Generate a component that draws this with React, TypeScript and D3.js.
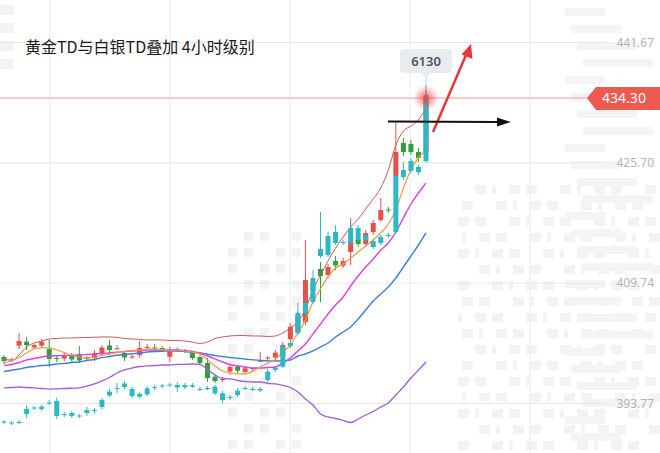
import React from 'react';
import * as d3 from 'd3';

const W = 660;
const H = 453;

const title = '黄金TD与白银TD叠加 4小时级别';
const axisTicks = [441.67, 425.70, 409.74, 393.77];
const lastPrice = 434.30;
const silverLast = 6130;

// Gold TD 4h candles
const goldOpen = [399.94, 399.48, 401.44, 401.97, 401.20, 401.44, 401.00, 399.81, 399.74, 400.14, 400.34, 399.68, 399.81, 400.34, 401.47, 400.96, 400.47, 399.87, 400.20, 401.14, 401.20, 401.14, 399.98, 400.94, 400.80, 400.47, 399.94, 399.14, 397.33, 396.89, 397.99, 398.65, 397.95, 398.35, 399.32, 399.74, 399.87, 400.07, 402.29, 403.26, 404.59, 409.76, 411.62, 410.82, 412.68, 412.05, 413.87, 415.47, 414.94, 416.53, 418.12, 419.51, 423.96, 428.34, 428.21, 427.14, 427.14];
const goldHigh = [400.20, 399.81, 403.13, 402.60, 401.67, 402.33, 402.20, 400.20, 400.47, 400.47, 401.40, 400.07, 400.87, 401.53, 402.20, 401.53, 400.74, 400.20, 402.06, 401.67, 401.67, 401.40, 401.31, 401.14, 401.00, 400.74, 400.20, 399.81, 397.69, 397.29, 399.01, 398.88, 398.75, 398.61, 400.64, 400.07, 400.87, 401.93, 404.45, 405.91, 415.47, 410.16, 412.54, 412.28, 413.34, 413.08, 418.39, 416.00, 416.79, 418.12, 421.04, 419.85, 431.13, 429.00, 428.74, 427.68, 435.37];
const goldLow = [399.01, 399.28, 401.00, 400.87, 401.00, 401.14, 398.61, 399.28, 399.41, 399.28, 399.14, 399.41, 399.41, 400.07, 400.20, 400.92, 399.41, 399.68, 399.81, 401.07, 400.60, 400.74, 399.28, 400.60, 400.47, 399.54, 398.88, 396.62, 396.49, 396.62, 397.55, 397.82, 397.69, 398.08, 399.28, 399.54, 399.68, 399.81, 401.93, 402.99, 404.19, 408.56, 407.24, 410.42, 411.48, 411.75, 412.15, 414.54, 414.67, 416.13, 417.86, 419.05, 423.69, 426.61, 426.75, 425.82, 426.75];
const goldClose = [399.41, 399.61, 402.06, 401.53, 401.53, 401.97, 399.68, 399.68, 400.14, 399.61, 399.48, 399.81, 400.41, 401.20, 400.87, 401.10, 399.87, 400.01, 401.14, 401.27, 401.07, 400.87, 400.64, 400.80, 400.67, 399.81, 399.14, 397.15, 396.76, 397.02, 398.61, 398.12, 398.44, 398.48, 399.48, 399.87, 400.51, 401.53, 403.96, 405.38, 410.16, 408.83, 410.69, 411.88, 412.08, 412.68, 415.47, 414.94, 416.40, 417.72, 419.44, 419.38, 427.14, 427.14, 427.14, 426.35, 434.30];

// Silver TD 4h candles (overlay, own scale)
const silverOpen = [4165, 4165, 4162, 4216, 4249, 4246, 4279, 4294, 4216, 4222, 4201, 4222, 4234, 4258, 4327, 4367, 4378, 4366, 4336, 4333, 4372, 4381, 4387, 4390, 4390, 4380, 4366, 4372, 4380, 4340, 4312, 4330, 4366, 4366, 4357, 4420, 4480, 4500, 4624, 4702, 4822, 4888, 5164, 5170, 5242, 5248, 5242, 5332, 5260, 5254, 5242, 5284, 5308, 5638, 5674, 5698, 5734];
const silverHigh = [4180, 4174, 4180, 4270, 4264, 4270, 4300, 4314, 4228, 4234, 4216, 4258, 4252, 4312, 4366, 4402, 4414, 4378, 4348, 4384, 4390, 4396, 4402, 4408, 4402, 4402, 4378, 4384, 4390, 4354, 4330, 4372, 4384, 4378, 4378, 4486, 4504, 4636, 4654, 4882, 4900, 5080, 5428, 5308, 5350, 5260, 5368, 5350, 5302, 5266, 5290, 5302, 5656, 5728, 5752, 5710, 6190];
const silverLow = [4156, 4150, 4156, 4192, 4240, 4234, 4270, 4186, 4198, 4192, 4192, 4204, 4222, 4246, 4318, 4342, 4366, 4312, 4312, 4324, 4360, 4372, 4378, 4348, 4366, 4372, 4354, 4360, 4330, 4282, 4300, 4318, 4360, 4354, 4348, 4408, 4468, 4492, 4612, 4690, 4810, 4876, 5152, 5158, 5230, 5230, 5230, 5248, 5248, 5206, 5230, 5272, 5296, 5620, 5662, 5650, 5722];
const silverClose = [4171, 4159, 4168, 4246, 4255, 4260, 4285, 4204, 4210, 4204, 4207, 4240, 4240, 4300, 4350, 4373, 4399, 4324, 4320, 4370, 4378, 4387, 4393, 4375, 4376, 4390, 4360, 4366, 4340, 4300, 4318, 4356, 4372, 4360, 4366, 4470, 4494, 4620, 4642, 4822, 4882, 5032, 5206, 5284, 5308, 5242, 5332, 5260, 5284, 5218, 5278, 5290, 5644, 5680, 5734, 5668, 6130];

// Gold indicator lines
const bollUpper = [399.81, 399.48, 400.21, 401.27, 401.80, 402.06, 402.33, 402.40, 402.46, 402.46, 402.50, 402.53, 402.56, 402.60, 402.60, 402.53, 402.40, 402.33, 402.26, 402.20, 402.20, 402.20, 402.13, 402.13, 402.06, 401.93, 401.73, 401.93, 402.40, 402.60, 402.73, 402.79, 402.79, 402.73, 402.73, 402.66, 402.73, 403.13, 403.79, 404.59, 406.31, 408.83, 410.82, 412.68, 414.41, 415.87, 417.19, 418.25, 419.58, 420.91, 422.37, 424.76, 428.07, 429.93, 430.59, 431.39, 432.98];
const ma5 = [399.14, 399.48, 399.87, 400.47, 401.00, 401.14, 401.14, 400.87, 400.54, 400.14, 399.94, 399.81, 399.94, 400.14, 400.34, 400.54, 400.67, 400.80, 400.87, 401.00, 401.00, 400.94, 400.87, 400.87, 400.74, 400.60, 400.34, 399.54, 398.75, 398.08, 397.82, 397.69, 397.69, 398.02, 398.61, 399.14, 399.61, 400.60, 401.53, 403.13, 404.85, 407.24, 408.96, 410.56, 411.75, 412.28, 413.08, 413.87, 414.67, 415.47, 416.40, 417.59, 419.45, 422.37, 424.76, 426.35, 427.41];
const ma10 = [398.81, 398.95, 399.21, 399.54, 399.74, 399.94, 400.07, 400.11, 400.14, 400.18, 400.21, 400.27, 400.34, 400.41, 400.50, 400.58, 400.67, 400.74, 400.80, 400.87, 400.87, 400.87, 400.87, 400.87, 400.80, 400.67, 400.47, 400.07, 399.68, 399.28, 398.95, 398.75, 398.61, 398.48, 398.48, 398.55, 398.61, 399.14, 399.81, 400.74, 401.67, 402.99, 404.32, 405.65, 406.84, 407.90, 409.36, 410.69, 411.88, 412.95, 414.14, 415.07, 416.53, 418.39, 420.24, 421.70, 423.03];
const bollMid = [398.02, 398.18, 398.35, 398.55, 398.68, 398.81, 398.88, 399.01, 399.10, 399.21, 399.28, 399.48, 399.61, 399.85, 400.01, 400.17, 400.27, 400.37, 400.47, 400.60, 400.67, 400.71, 400.74, 400.74, 400.67, 400.56, 400.47, 400.30, 400.14, 400.01, 399.87, 399.77, 399.68, 399.57, 399.48, 399.44, 399.41, 399.45, 399.54, 400.07, 400.34, 400.74, 401.27, 401.80, 402.60, 403.26, 403.92, 404.98, 406.18, 407.37, 408.30, 409.23, 410.42, 411.88, 413.34, 414.80, 416.40];
const bollLower = [395.83, 395.89, 395.96, 395.89, 395.83, 395.76, 395.69, 395.72, 395.76, 395.80, 395.85, 396.09, 396.36, 396.76, 397.22, 397.82, 398.22, 398.48, 398.68, 398.75, 398.81, 398.88, 398.88, 398.95, 398.97, 399.01, 398.95, 398.28, 397.55, 397.11, 397.05, 396.82, 396.69, 396.62, 396.62, 396.45, 396.36, 396.16, 395.89, 395.30, 394.37, 393.57, 392.38, 391.98, 391.78, 391.52, 391.25, 391.71, 392.24, 392.71, 393.31, 393.84, 394.90, 395.96, 397.15, 398.21, 399.28];

const lineSeries = [
  { name: 'upper', values: bollUpper, color: '#cf5a52', width: 1 },
  { name: 'lower', values: bollLower, color: '#a25be0', width: 1.3 },
  { name: 'mid', values: bollMid, color: '#3d80dc', width: 1.4 },
  { name: 'ma10', values: ma10, color: '#e23fe3', width: 1.4 },
  { name: 'ma5', values: ma5, color: '#f39a3d', width: 1.2 },
];

const RED = '#e4514a';
const GREEN = '#2f9e3c';
const CYAN = '#2cb8c7';

function Watermark() {
  const blocks: JSX.Element[] = [];
  // faint background texture (decorative)
  for (let r = 0; r < 17; r++) {
    for (let c = 0; c < 12; c++) {
      const k = (r * 7 + c * 3) % 5;
      if (k === 0) continue;
      const bx = 458 + c * 17 + (r % 2) * 4;
      const by = 185 + r * 16;
      blocks.push(<rect key={`a${r}-${c}`} x={bx} y={by} width={k === 1 ? 4 : 11} height={9} fill="#f3f3f5" />);
    }
  }
  for (let r = 0; r < 26; r++) {
    const k = (r * 5) % 4;
    blocks.push(<rect key={`b${r}`} x={565 + k * 6} y={8 + r * 17} width={40 + k * 10} height={8} fill="#f4f4f6" />);
  }
  for (let r = 0; r < 14; r++) {
    for (let c = 0; c < 5; c++) {
      if ((r + c) % 3 === 0) continue;
      blocks.push(<rect key={`c${r}-${c}`} x={228 + c * 16} y={232 + r * 16} width={9} height={9} fill="#f3f3f4" />);
    }
  }
  for (let r = 0; r < 4; r++) {
    blocks.push(<rect key={`d${r}`} x={0} y={5 + r * 18} width={14} height={10} fill="#f3f3f5" />);
  }
  return <g>{blocks}</g>;
}

export default function App() {
  const n = goldOpen.length;
  const x = d3.scalePoint<number>().domain(d3.range(n)).range([4, 426]);
  const y = d3.scaleLinear().domain([393.77, 441.67]).range([403.5, 42.5]);
  const ys = d3.scaleLinear().domain([4000, 6700]).range([450, 0]);
  const bodyW = 5;

  const lineGen = d3
    .line<number>()
    .x((_, i) => x(i) as number)
    .y((v) => y(v))
    .curve(d3.curveMonotoneX);

  const candle = (
    key: string,
    i: number,
    o: number,
    h: number,
    l: number,
    c: number,
    sc: d3.ScaleLinear<number, number>,
    color: string
  ) => {
    const cx = x(i) as number;
    const top = sc(Math.max(o, c));
    const bot = sc(Math.min(o, c));
    const hgt = Math.max(1, bot - top);
    return (
      <g key={key}>
        <line x1={cx} x2={cx} y1={sc(h)} y2={sc(l)} stroke={color} strokeWidth={1} />
        <rect x={cx - bodyW / 2} y={top} width={bodyW} height={hgt} fill={color} />
      </g>
    );
  };

  const lastX = x(n - 1) as number;
  const lastY = y(lastPrice);
  const tipTop = ys(silverHigh[n - 1]);
  const gridX = [50, 170, 290, 410, 530];

  return (
    <svg
      width={W}
      height={H}
      style={{ position: 'absolute', left: 0, top: 0, background: '#fff' }}
      fontFamily="'Noto Sans', 'Liberation Sans', sans-serif"
    >
      <defs>
        <radialGradient id="glow">
          <stop offset="0%" stopColor="#ff2a2a" stopOpacity={0.75} />
          <stop offset="55%" stopColor="#ff4a4a" stopOpacity={0.35} />
          <stop offset="100%" stopColor="#ff6a6a" stopOpacity={0} />
        </radialGradient>
      </defs>
      <rect width={W} height={H} fill="#fff" />
      <Watermark />

      {gridX.map((gx) => (
        <line key={gx} x1={gx} x2={gx} y1={0} y2={H} stroke="#ececec" strokeWidth={1} />
      ))}
      {axisTicks.map((t) => (
        <g key={t}>
          <line x1={0} x2={606} y1={y(t)} y2={y(t)} stroke="#e6e6e6" strokeWidth={1} />
          <text x={654} y={y(t)} dy="0.35em" textAnchor="end" fontSize={12} fill="#b3b3b3">
            {t.toFixed(2)}
          </text>
        </g>
      ))}

      <text x={25} y={53} fontSize={16} fill="#1a1a1a" fontFamily="'Noto Sans CJK SC', sans-serif">
        {title}
      </text>

      {goldOpen.map((o, i) =>
        candle(`g${i}`, i, o, goldHigh[i], goldLow[i], goldClose[i], y, goldClose[i] >= o ? RED : GREEN)
      )}

      {lineSeries.map((s) => (
        <path key={s.name} d={lineGen(s.values) || ''} fill="none" stroke={s.color} strokeWidth={s.width} />
      ))}

      {silverOpen.map((o, i) =>
        candle(`s${i}`, i, o, silverHigh[i], silverLow[i], silverClose[i], ys, CYAN)
      )}

      {/* last price line & label */}
      <line x1={0} x2={590} y1={lastY} y2={lastY} stroke="#f29a94" strokeWidth={1} />
      <path
        d={`M587,${lastY} L596,${lastY - 11} L660,${lastY - 11} L660,${lastY + 12} L596,${lastY + 12} Z`}
        fill="#ec5a50"
      />
      <text x={624} y={lastY} dy="0.36em" textAnchor="middle" fontSize={14} fill="#fff">
        {lastPrice.toFixed(2)}
      </text>

      <circle cx={lastX} cy={lastY} r={13} fill="url(#glow)" />

      {/* tooltip */}
      <line x1={lastX} x2={lastX} y1={76} y2={tipTop} stroke="#c9cfd6" strokeWidth={1} />
      <rect x={lastX - 26} y={49} width={52} height={24} rx={4} fill="#e8ecf0" />
      <path d={`M${lastX - 5},73 L${lastX + 5},73 L${lastX},79 Z`} fill="#e8ecf0" />
      <text x={lastX} y={61} dy="0.36em" textAnchor="middle" fontSize={13} fontWeight={600} fill="#555">
        {silverLast}
      </text>

      {/* annotations */}
      <line x1={433} y1={132} x2={466} y2={55} stroke="#e8363b" strokeWidth={2.5} />
      <path d="M471,44 L472.5,59 L461.5,54.5 Z" fill="#e8363b" />
      <line x1={388} y1={121.5} x2={498} y2={122} stroke="#111" strokeWidth={2} />
      <path d="M511,122 L497,117.5 L497,126.5 Z" fill="#111" />
    </svg>
  );
}
